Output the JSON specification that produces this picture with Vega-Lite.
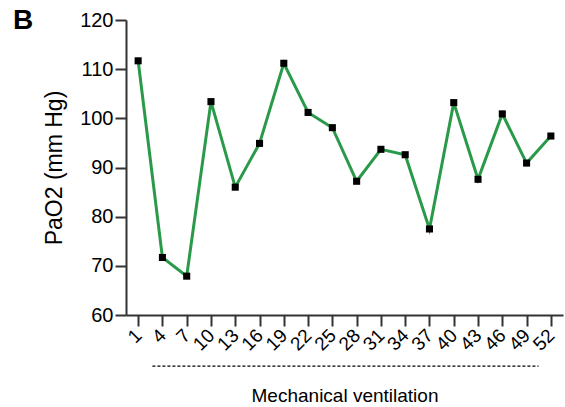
{
  "$schema": "https://vega.github.io/schema/vega-lite/v6.json",
  "autosize": {"type": "none"},
  "width": 437,
  "height": 295,
  "padding": {"left": 126, "top": 20, "right": 2, "bottom": 92},
  "background": "white",
  "title": {"text": "B", "anchor": "start", "frame": "group", "dx": -113, "dy": 25, "offset": 0, "baseline": "top", "font": "Liberation Sans", "fontSize": 28, "fontWeight": "bold", "color": "black"},
  "config": {"view": {"stroke": null}, "font": "Liberation Sans"},
  "data": {"values": [
    {"t": "1", "v": 111.7},
    {"t": "4", "v": 71.7},
    {"t": "7", "v": 67.9},
    {"t": "10", "v": 103.4},
    {"t": "13", "v": 86.0},
    {"t": "16", "v": 94.9},
    {"t": "19", "v": 111.2},
    {"t": "22", "v": 101.2},
    {"t": "25", "v": 98.1},
    {"t": "28", "v": 87.2},
    {"t": "31", "v": 93.7},
    {"t": "34", "v": 92.6},
    {"t": "37", "v": 77.5},
    {"t": "40", "v": 103.2},
    {"t": "43", "v": 87.6},
    {"t": "46", "v": 100.9},
    {"t": "49", "v": 90.9},
    {"t": "52", "v": 96.4}
  ]},
  "encoding": {
    "x": {"field": "t", "type": "ordinal", "sort": null,
      "scale": {"type": "point", "padding": 0.5},
      "axis": {"title": "Mechanical ventilation", "titleFontSize": 19, "titleFontWeight": "normal", "titleColor": "black", "titlePadding": 32,
        "labelAngle": -45, "labelFontSize": 19, "labelColor": "black", "labelAlign": "right", "labelBaseline": "middle", "labelPadding": 6,
        "domainColor": "#333", "domainWidth": 2, "tickColor": "#333", "tickWidth": 2, "tickSize": 11}},
    "y": {"field": "v", "type": "quantitative",
      "scale": {"domain": [60, 120], "nice": false, "zero": false},
      "axis": {"title": "PaO2 (mm Hg)", "titleFontSize": 23, "titleFontWeight": "normal", "titleColor": "black", "titlePadding": 13,
        "values": [60, 70, 80, 90, 100, 110, 120], "grid": false,
        "labelFontSize": 20, "labelColor": "black", "labelPadding": 2,
        "domainColor": "#333", "domainWidth": 2, "tickColor": "#333", "tickWidth": 2, "tickSize": 11}}
  },
  "layer": [
    {"mark": {"type": "line", "color": "#2a9a4a", "strokeWidth": 3}},
    {"mark": {"type": "point", "shape": "square", "filled": true, "color": "black", "size": 50, "opacity": 1}},
    {"data": {"values": [{"a": "4", "b": "49", "y": 49.6}]},
     "mark": {"type": "rule", "strokeDash": [3, 2], "strokeWidth": 1.2, "color": "black", "clip": false, "xOffset": -10, "x2Offset": 12},
     "encoding": {"x": {"field": "a", "type": "ordinal"}, "x2": {"field": "b"}, "y": {"field": "y", "type": "quantitative"}}}
  ]
}
